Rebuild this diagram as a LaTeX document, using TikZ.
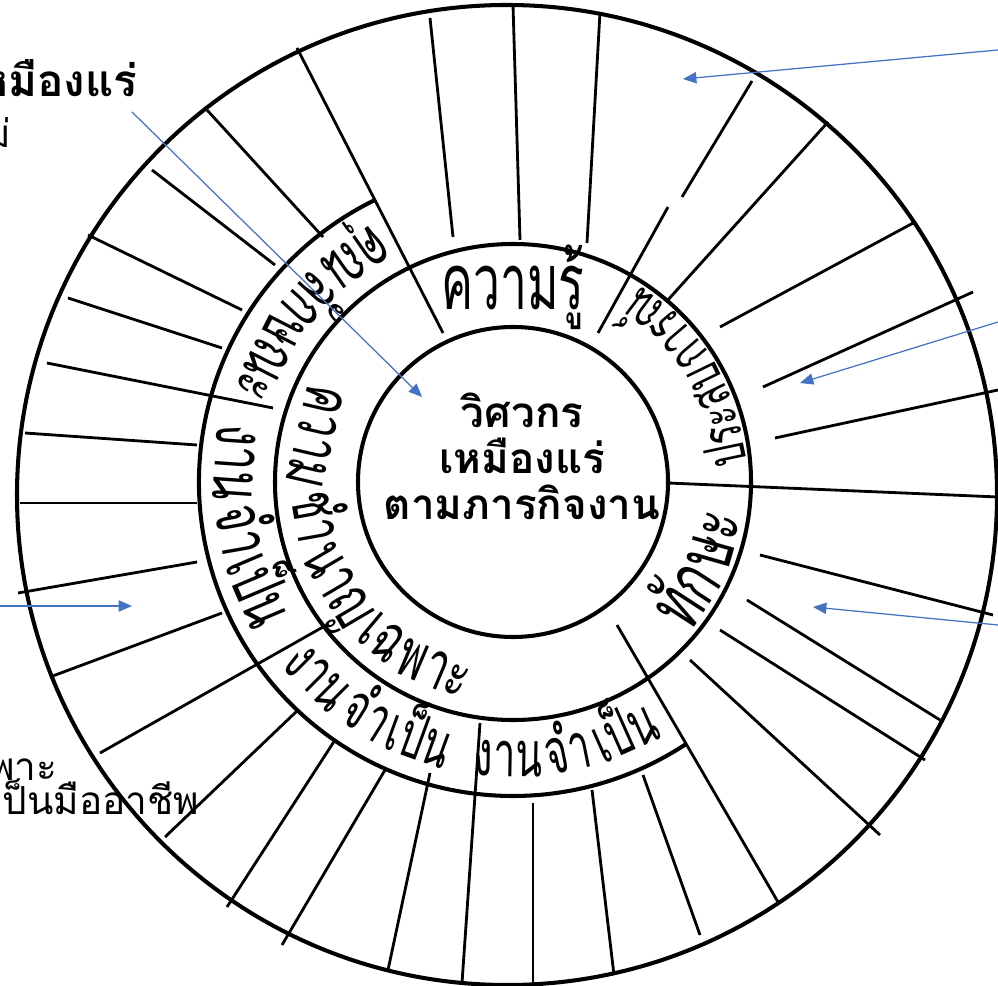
\documentclass[tikz,border=0pt]{standalone}
\usepackage{fontspec}
\newfontfamily\thaifont[Script=Thai]{Loma}
\newfontfamily\thaihand[Script=Thai,FakeStretch=0.62]{Loma}
\usepackage{tikz}
\usetikzlibrary{
  arrows.meta,
  calc
}
\definecolor{wheelink}{RGB}{0,0,0}
\definecolor{pointerblue}{RGB}{68,114,196}
\tikzset{
  wheel/.style={draw=wheelink,line width=1.15pt},
  spoke/.style={draw=wheelink,line width=0.8pt},
  pointer/.style={-{Triangle[length=3.8pt,width=3.2pt]},
    draw=pointerblue,fill=pointerblue,line width=0.35pt},
  ringlab/.style={font=\thaihand\fontsize{#1}{#1}\selectfont,
    inner sep=0pt,anchor=mid},
  ringlab/.default=19,
  corelab/.style={font=\thaifont\bfseries\fontsize{12}{13.1}\selectfont,
    align=center,inner sep=0pt},
  sidelab/.style={font=\thaifont\fontsize{11}{12}\selectfont,
    anchor=east,inner sep=0pt},
  sidebold/.style={font=\thaifont\bfseries\fontsize{12.5}{13}\selectfont,
    anchor=east,inner sep=0pt}
}

\begin{document}
\begin{tikzpicture}[x=0.01cm,y=0.01cm]
  \useasboundingbox (0,0) rectangle (998,985);
  \clip (0,0) rectangle (998,985);
  \coordinate (hub) at (513,503);
  \coordinate (rim) at (507,490);

  % rings
  \draw[wheel] (rim) circle[radius=490];
  \draw[wheel] (hub) circle[radius=238];
  \draw[wheel] (hub) circle[radius=155];
  \draw[wheel] ($(hub)+(116:314)$) arc[start angle=116,end angle=303.5,radius=314];

  % spokes, left and bottom
  \draw[spoke] (207,875)--(323,748);
  \draw[spoke] (152,815)--(275,720);
  \draw[spoke] (88,750)--(242,675);
  \draw[spoke] (68,687)--(222,637);
  \draw[spoke] (47,622)--(273,577);
  \draw[spoke] (25,552)--(197,540);
  \draw[spoke] (20,482)--(197,482);
  \draw[spoke] (18,392)--(197,423);
  \draw[spoke] (50,308)--(222,372);
  \draw[spoke] (100,232)--(323,358);
  \draw[spoke] (165,148)--(298,275);
  \draw[spoke] (227,78)--(335,245);
  \draw[spoke] (282,40)--(385,215);
  \draw[spoke] (388,15)--(430,212);
  \draw[spoke] (462,2)--(480,262);
  \draw[spoke] (533,0)--(533,182);
  \draw[spoke] (614,10)--(592,195);
  \draw[spoke] (700,50)--(643,210);
  \draw[spoke] (778,83)--(617,360);
  % spokes, right and top
  \draw[spoke] (880,150)--(690,325);
  \draw[spoke] (925,225)--(720,355);
  \draw[spoke] (940,265)--(747,385);
  \draw[spoke] (993,370)--(760,430);
  \draw[spoke] (998,488)--(668,502);
  \draw[spoke] (998,595)--(775,547);
  \draw[spoke] (973,693)--(763,598);
  \draw[spoke] (915,763)--(720,658);
  \draw[spoke] (828,863)--(667,684);
  \draw[spoke] (752,904)--(682,788);
  \draw[spoke] (668,778)--(598,652);
  \draw[spoke] (600,973)--(587,742);
  \draw[spoke] (513,980)--(520,745);
  \draw[spoke] (430,967)--(453,748);
  \draw[spoke] (297,937)--(443,652);

  % centre
  \node[corelab] (core) at (522,529) {วิศวกร\\เหมืองแร่\\ตามภารกิจงาน};

  % inner ring
  \node[ringlab=22] (know) at ($(hub)+(90:180)$) {ความรู้};
  \node[ringlab=16,rotate=102] (expa) at ($(hub)+(12:226)$) {ประ};
  \node[ringlab=16,rotate=116] (expb) at ($(hub)+(26:226)$) {สบ};
  \node[ringlab=16,rotate=130.5] (expc) at ($(hub)+(40.5:226)$) {การ};
  \node[ringlab=16,rotate=143] (expd) at ($(hub)+(53:226)$) {ณ์};
  \node[ringlab=22,rotate=57] (skilla) at ($(hub)+(-33:224)$) {ทัก};
  \node[ringlab=22,rotate=74] (skillb) at ($(hub)+(-16:224)$) {ษะ};
  \node[ringlab,rotate=257] (experta) at ($(hub)+(167:214)$) {ความ};
  \node[ringlab,rotate=280] (expertb) at ($(hub)+(190:214)$) {ชำ};
  \node[ringlab,rotate=300.5] (expertc) at ($(hub)+(210.5:214)$) {นาญ};
  \node[ringlab,rotate=320] (expertd) at ($(hub)+(230:214)$) {เฉ};
  \node[ringlab,rotate=337] (experte) at ($(hub)+(247:214)$) {พาะ};

  % outer ring
  \node[ringlab,rotate=215] (traita) at ($(hub)+(125:285)$) {คุณ};
  \node[ringlab,rotate=228] (traitb) at ($(hub)+(138:285)$) {ลัก};
  \node[ringlab,rotate=243] (traitc) at ($(hub)+(153:285)$) {ษณะ};
  \node[ringlab=20,rotate=266] (needa) at ($(hub)+(176:291)$) {งาน};
  \node[ringlab=20,rotate=280] (needb) at ($(hub)+(190:291)$) {จำ};
  \node[ringlab=20,rotate=293] (needc) at ($(hub)+(203:291)$) {เป็น};
  \node[ringlab=18,rotate=315] (needd) at ($(hub)+(225:287)$) {งาน};
  \node[ringlab=18,rotate=328] (neede) at ($(hub)+(238:287)$) {จำ};
  \node[ringlab=18,rotate=340] (needf) at ($(hub)+(250:287)$) {เป็น};
  \node[ringlab=18,rotate=359] (needg) at ($(hub)+(269:287)$) {งาน};
  \node[ringlab=18,rotate=11.5] (needh) at ($(hub)+(281.5:287)$) {จำ};
  \node[ringlab=18,rotate=24] (needi) at ($(hub)+(294:287)$) {เป็น};

  % side texts
  \node[sidebold] (minetitle) at (138,907) {วิศวกรเหมืองแร่};
  \node[sidelab] (minesub) at (12,855) {ใหม่};
  \node[sidelab] (special) at (58,215) {เฉพาะ};
  \node[sidelab] (profess) at (200,188) {เป็นมืออาชีพ};

  % pointers
  \coordinate (tailmine) at (132,873);
  \coordinate (tipcore) at (422,588);
  \coordinate (tailtop) at (998,935);
  \coordinate (tiptop) at (683,906);
  \coordinate (tailexp) at (998,663);
  \coordinate (tipexp) at (800,602);
  \coordinate (tailskill) at (998,360);
  \coordinate (tipskill) at (813,378);
  \coordinate (tailleft) at (0,379);
  \coordinate (tipleft) at (132,379);
  \draw[pointer] (tailmine)--(tipcore);
  \draw[pointer] (tailtop)--(tiptop);
  \draw[pointer] (tailexp)--(tipexp);
  \draw[pointer] (tailskill)--(tipskill);
  \draw[pointer] (tailleft)--(tipleft);
\end{tikzpicture}
\end{document}
